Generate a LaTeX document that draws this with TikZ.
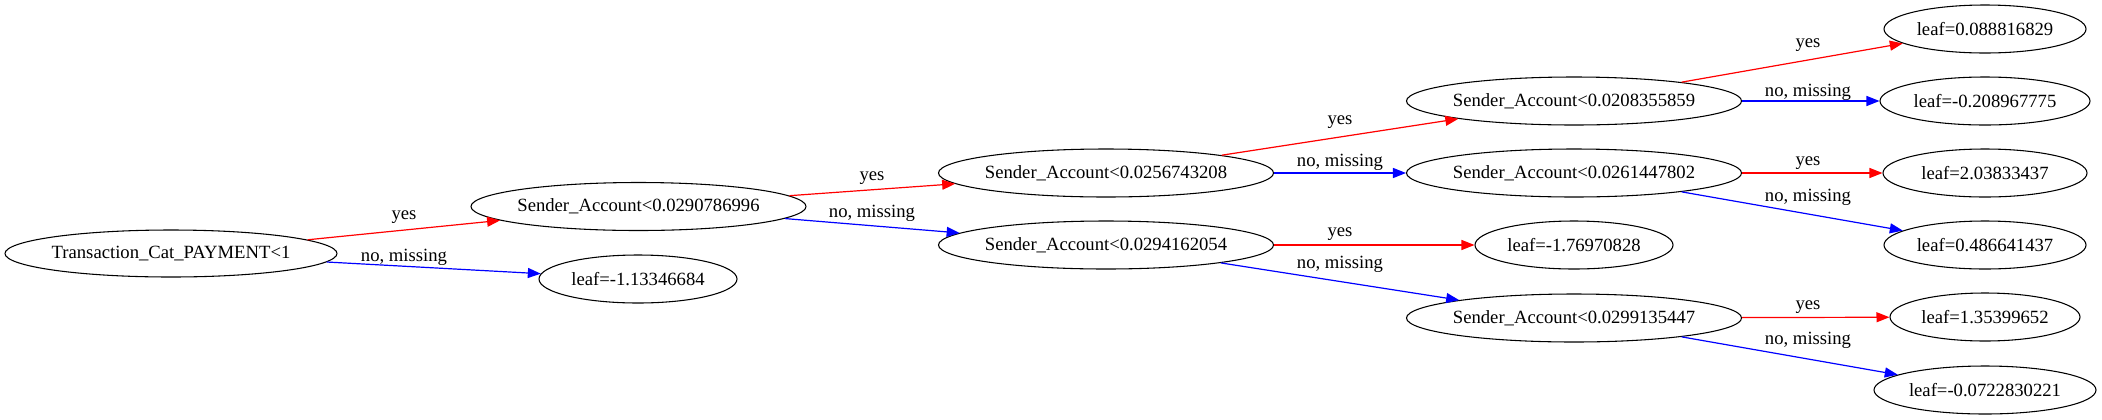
\documentclass[tikz,border=0pt]{standalone}
\usepackage{fontspec}
\setmainfont{Liberation Serif}
\usetikzlibrary{shapes.geometric,arrows.meta}
\begin{document}
\begin{tikzpicture}[x=0.75pt,y=-0.75pt,
  nd/.style={draw, ellipse, line width=0.8pt, inner sep=0pt, minimum height=36pt,
    font=\fontsize{14}{16}\selectfont},
  lbl/.style={inner sep=0pt, font=\fontsize{14}{16}\selectfont},
  edge/.style={line width=0.9pt, -{Triangle[length=9.75pt,width=7.5pt]}},
  yesedge/.style={edge, draw=red},
  noedge/.style={edge, draw=blue}]
\useasboundingbox (0,0) rectangle (2102,419);
% nodes
\node[nd, minimum width=249pt, minimum height=35.25pt] (root) at (171,253.5) {\makebox[0pt]{Transaction\_Cat\_PAYMENT<1}};
\node[nd, minimum width=251.25pt] (s1) at (638.5,206.5) {\makebox[0pt]{Sender\_Account<0.0290786996}};
\node[nd, minimum width=148.5pt] (la) at (638,279) {\makebox[0pt]{leaf=-1.13346684}};
\node[nd, minimum width=251.25pt] (s2) at (1106,173) {\makebox[0pt]{Sender\_Account<0.0256743208}};
\node[nd, minimum width=251.25pt] (s3) at (1106,245) {\makebox[0pt]{Sender\_Account<0.0294162054}};
\node[nd, minimum width=251.25pt] (s4) at (1574,101) {\makebox[0pt]{Sender\_Account<0.0208355859}};
\node[nd, minimum width=251.25pt] (s5) at (1574,173) {\makebox[0pt]{Sender\_Account<0.0261447802}};
\node[nd, minimum width=148.5pt] (lb) at (1574,245) {\makebox[0pt]{leaf=-1.76970828}};
\node[nd, minimum width=251.25pt] (s6) at (1574,318) {\makebox[0pt]{Sender\_Account<0.0299135447}};
\node[nd, minimum width=151.5pt] (l1) at (1985,29) {\makebox[0pt]{leaf=0.088816829}};
\node[nd, minimum width=157.5pt] (l2) at (1985,101) {\makebox[0pt]{leaf=-0.208967775}};
\node[nd, minimum width=153pt] (l3) at (1985,173) {\makebox[0pt]{leaf=2.03833437}};
\node[nd, minimum width=151.5pt] (l4) at (1985,245) {\makebox[0pt]{leaf=0.486641437}};
\node[nd, minimum width=142.5pt] (l5) at (1985,317) {\makebox[0pt]{leaf=1.35399652}};
\node[nd, minimum width=166.5pt] (l6) at (1985,390) {\makebox[0pt]{leaf=-0.0722830221}};
% edges
\draw[yesedge] (root) -- (s1);
\draw[noedge] (root) -- (la);
\draw[yesedge] (s1) -- (s2);
\draw[noedge] (s1) -- (s3);
\draw[yesedge] (s2) -- (s4);
\draw[noedge] (s2) -- (s5);
\draw[yesedge] (s3) -- (lb);
\draw[noedge] (s3) -- (s6);
\draw[yesedge] (s4) -- (l1);
\draw[noedge] (s4) -- (l2);
\draw[yesedge] (s5) -- (l3);
\draw[noedge] (s5) -- (l4);
\draw[yesedge] (s6) -- (l5);
\draw[noedge] (s6) -- (l6);
% labels
\node[lbl] (t1) at (404,217) {yes};
\node[lbl] (t2) at (404,257) {no, missing};
\node[lbl] (t3) at (872,178) {yes};
\node[lbl] (t4) at (872,213) {no, missing};
\node[lbl] (t5) at (1340,122) {yes};
\node[lbl] (t6) at (1340,162) {no, missing};
\node[lbl] (t7) at (1340,234) {yes};
\node[lbl] (t8) at (1340,264) {no, missing};
\node[lbl] (t9) at (1808,45) {yes};
\node[lbl] (t10) at (1808,92) {no, missing};
\node[lbl] (t11) at (1808,163) {yes};
\node[lbl] (t12) at (1808,197) {no, missing};
\node[lbl] (t13) at (1808,307) {yes};
\node[lbl] (t14) at (1808,340) {no, missing};
\end{tikzpicture}
\end{document}
